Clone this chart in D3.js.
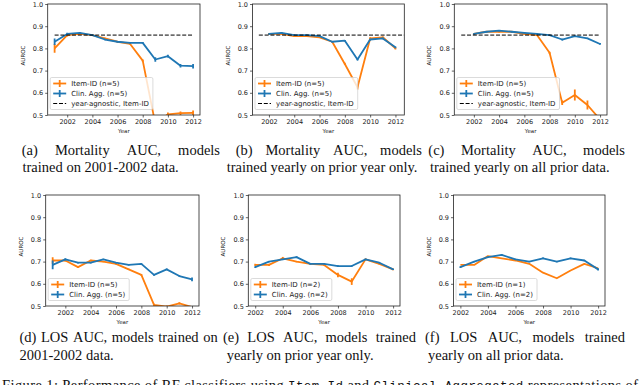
<!DOCTYPE html>
<html>
<head>
<meta charset="utf-8">
<script src="https://cdn.jsdelivr.net/npm/d3@7"></script>
<style>
body { margin: 0; background: #fff; }
svg { display: block; }
.cap { font-family: "Liberation Serif", "DejaVu Serif", serif; font-size: 14.5px; fill: #111; }
.tick text { font-family: "DejaVu Sans", sans-serif; font-size: 6.5px; fill: #222; }
.tick line { stroke: #222; stroke-width: 0.7; }
.lbl { font-family: "DejaVu Sans", sans-serif; font-size: 5.5px; fill: #222; }
.leg { font-family: "DejaVu Sans", sans-serif; font-size: 7px; fill: #222; }
</style>
</head>
<body>
<svg id="fig" width="640" height="385"></svg>
<script>
// ---- data ----
var years01 = [2001, 2002, 2003, 2004, 2005, 2006, 2007, 2008, 2009, 2010, 2011, 2012];
var years02 = [2002, 2003, 2004, 2005, 2006, 2007, 2008, 2009, 2010, 2011, 2012];
var xTicks = [2002, 2004, 2006, 2008, 2010, 2012];
var yTicks = [0.5, 0.6, 0.7, 0.8, 0.9, 1.0];

// (a) mortality, trained on 2001-2002
var mortFixedItem = [0.80, 0.86, 0.865, 0.86, 0.845, 0.83, 0.82, 0.745, 0.46, 0.503, 0.508, 0.51];
var mortFixedItemErr = [0.02, 0.006, 0.004, 0.003, 0.003, 0.003, 0.003, 0.005, 0.005, 0.008, 0.008, 0.01];
var mortFixedClin = [0.83, 0.865, 0.87, 0.86, 0.84, 0.83, 0.825, 0.825, 0.75, 0.765, 0.722, 0.72];
var mortFixedClinErr = [0.015, 0.005, 0.003, 0.003, 0.003, 0.003, 0.003, 0.004, 0.01, 0.006, 0.008, 0.01];

// (b) mortality, trained on prior year only
var mortPrevItem = [0.865, 0.865, 0.855, 0.855, 0.85, 0.83, 0.73, 0.625, 0.845, 0.85, 0.80];
var mortPrevItemErr = [0.004, 0.004, 0.003, 0.003, 0.003, 0.003, 0.005, 0.01, 0.005, 0.004, 0.005];
var mortPrevClin = [0.865, 0.87, 0.86, 0.86, 0.855, 0.83, 0.835, 0.75, 0.84, 0.845, 0.805];
var mortPrevClinErr = [0.003, 0.003, 0.003, 0.003, 0.003, 0.003, 0.003, 0.005, 0.004, 0.004, 0.004];

// (c) mortality, trained on all prior data
var mortAllItem = [0.865, 0.875, 0.875, 0.875, 0.865, 0.86, 0.78, 0.555, 0.59, 0.545, 0.48];
var mortAllItemErr = [0.003, 0.003, 0.003, 0.003, 0.003, 0.003, 0.005, 0.01, 0.025, 0.02, 0.01];
var mortAllClin = [0.865, 0.875, 0.88, 0.875, 0.87, 0.865, 0.86, 0.84, 0.855, 0.845, 0.82];
var mortAllClinErr = [0.003, 0.003, 0.003, 0.003, 0.003, 0.003, 0.003, 0.004, 0.003, 0.003, 0.004];

// (d) LOS, trained on 2001-2002
var losFixedItem = [0.705, 0.705, 0.675, 0.705, 0.70, 0.69, 0.665, 0.64, 0.505, 0.497, 0.512, 0.495];
var losFixedItemErr = [0.015, 0.005, 0.004, 0.003, 0.003, 0.003, 0.003, 0.004, 0.005, 0.005, 0.005, 0.005];
var losFixedClin = [0.685, 0.71, 0.695, 0.695, 0.71, 0.695, 0.685, 0.69, 0.64, 0.665, 0.635, 0.62];
var losFixedClinErr = [0.02, 0.005, 0.003, 0.003, 0.003, 0.003, 0.003, 0.003, 0.004, 0.004, 0.003, 0.008];

// (e) LOS, trained on prior year only
var losPrevItem = [0.685, 0.685, 0.715, 0.70, 0.69, 0.685, 0.64, 0.61, 0.71, 0.69, 0.665];
var losPrevItemErr = [0.005, 0.005, 0.006, 0.003, 0.003, 0.004, 0.01, 0.015, 0.004, 0.003, 0.004];
var losPrevClin = [0.675, 0.70, 0.71, 0.72, 0.69, 0.69, 0.68, 0.68, 0.71, 0.695, 0.665];
var losPrevClinErr = [0.004, 0.003, 0.003, 0.004, 0.003, 0.003, 0.003, 0.003, 0.003, 0.003, 0.003];

// (f) LOS, trained on all prior data
var losAllItem = [0.685, 0.685, 0.725, 0.715, 0.705, 0.69, 0.65, 0.625, 0.66, 0.69, 0.67];
var losAllItemErr = [0, 0, 0, 0, 0, 0, 0, 0, 0, 0, 0];
var losAllClin = [0.675, 0.70, 0.72, 0.73, 0.71, 0.70, 0.715, 0.70, 0.715, 0.705, 0.665];
var losAllClinErr = [0.004, 0.003, 0.003, 0.003, 0.003, 0.003, 0.003, 0.003, 0.003, 0.003, 0.005];

var yearAgnostic = 0.86;
var itemN = [5, 5, 5, 5, 2, 1];
var clinN = [5, 5, 5, 5, 2, 2];

var captions = [
    ["(a) Mortality AUC, models", "trained on 2001-2002 data."],
    ["(b) Mortality AUC, models", "trained yearly on prior year only."],
    ["(c) Mortality AUC, models", "trained yearly on all prior data."],
    ["(d) LOS AUC, models trained on", "2001-2002 data."],
    ["(e) LOS AUC, models trained", "yearly on prior year only."],
    ["(f) LOS AUC, models trained", "yearly on all prior data."]
];

// ---- layout ----
// cx: justified first line [x0, x1], second line x; cy: baselines
var panels = [
    { years: years01, item: mortFixedItem, itemErr: mortFixedItemErr, clin: mortFixedClin, clinErr: mortFixedClinErr,
      base: [2001, 2012], l: 47.7, r: 200, t: 4, b: 115, xdom: [2000.45, 2012.55], cx: [21.7, 220, 22.5], cy: [155, 172] },
    { years: years02, item: mortPrevItem, itemErr: mortPrevItemErr, clin: mortPrevClin, clinErr: mortPrevClinErr,
      base: [2001.2, 2012.7], l: 252.5, r: 404.3, t: 4, b: 115, xdom: [2000.7, 2012.7], cx: [235.7, 422, 226.7], cy: [155, 172] },
    { years: years02, item: mortAllItem, itemErr: mortAllItemErr, clin: mortAllClin, clinErr: mortAllClinErr,
      base: [2001, 2012], l: 454.3, r: 607, t: 4, b: 115, xdom: [2000.45, 2012.55], cx: [428.3, 625, 430], cy: [155, 172] },
    { years: years01, item: losFixedItem, itemErr: losFixedItemErr, clin: losFixedClin, clinErr: losFixedClinErr,
      base: null, l: 45.7, r: 199, t: 195, b: 306, xdom: [2000.45, 2012.55], cx: [19.5, 217.7, 19.5], cy: [342, 360] },
    { years: years02, item: losPrevItem, itemErr: losPrevItemErr, clin: losPrevClin, clinErr: losPrevClinErr,
      base: null, l: 248.3, r: 400, t: 195, b: 306, xdom: [2001.5, 2012.5], cx: [223, 416, 226.7], cy: [342, 360] },
    { years: years02, item: losAllItem, itemErr: losAllItemErr, clin: losAllClin, clinErr: losAllClinErr,
      base: null, l: 453.5, r: 605, t: 195, b: 306, xdom: [2001.5, 2012.5], cx: [425, 625, 428], cy: [342, 360] }
];

var orange = "#ff7f0e", blue = "#1f77b4";
var svg = d3.select("#fig");

function justify(g, text, x0, x1, y) {
    var words = text.split(" ");
    var nodes = words.map(function(w) {
        return g.append("text").attr("class", "cap").attr("y", y).text(w);
    });
    var widths = nodes.map(function(n) { return n.node().getComputedTextLength(); });
    var gap = (x1 - x0 - d3.sum(widths)) / (words.length - 1);
    var x = x0;
    nodes.forEach(function(n, i) { n.attr("x", x); x += widths[i] + gap; });
}

panels.forEach(function(p, pi) {
    var g = svg.append("g");
    var x = d3.scaleLinear().domain(p.xdom).range([p.l, p.r]);
    var y = d3.scaleLinear().domain([0.5, 1.0]).range([p.b, p.t]);

    var clipId = "clip" + pi;
    g.append("clipPath").attr("id", clipId)
        .append("rect").attr("x", p.l).attr("y", p.t).attr("width", p.r - p.l).attr("height", p.b - p.t);

    g.append("g")
        .attr("transform", "translate(0," + p.b + ")")
        .call(d3.axisBottom(x).tickValues(xTicks).tickFormat(d3.format("d")).tickSize(2.5).tickPadding(2))
        .call(function(a) { a.select(".domain").remove(); });
    g.append("g")
        .attr("transform", "translate(" + p.l + ",0)")
        .call(d3.axisLeft(y).tickValues(yTicks).tickFormat(d3.format(".1f")).tickSize(2.5).tickPadding(2))
        .call(function(a) { a.select(".domain").remove(); });

    g.append("text").attr("class", "lbl")
        .attr("x", (p.l + p.r) / 2).attr("y", p.b + 18)
        .attr("text-anchor", "middle").text("Year");
    g.append("text").attr("class", "lbl")
        .attr("transform", "translate(" + (p.l - 23) + "," + ((p.t + p.b) / 2 - 4) + ") rotate(-90)")
        .attr("text-anchor", "middle").text("AUROC");

    var plot = g.append("g").attr("clip-path", "url(#" + clipId + ")");
    var line = d3.line().x(function(d) { return x(d[0]); }).y(function(d) { return y(d[1]); });

    [[p.item, p.itemErr, orange], [p.clin, p.clinErr, blue]].forEach(function(s) {
        var pts = p.years.map(function(yr, i) { return [yr, s[0][i], s[1][i]]; });
        plot.append("path").datum(pts)
            .attr("d", line)
            .attr("fill", "none").attr("stroke", s[2]).attr("stroke-width", 1.8)
            .attr("stroke-linejoin", "round");
        plot.selectAll(null).data(pts.filter(function(d) { return d[2] > 0; }))
            .enter().append("line")
            .attr("x1", function(d) { return x(d[0]); }).attr("x2", function(d) { return x(d[0]); })
            .attr("y1", function(d) { return y(d[1] - d[2]); }).attr("y2", function(d) { return y(d[1] + d[2]); })
            .attr("stroke", s[2]).attr("stroke-width", 1.8);
    });

    if (p.base) {
        plot.append("line")
            .attr("x1", x(p.base[0])).attr("x2", x(p.base[1]))
            .attr("y1", y(yearAgnostic)).attr("y2", y(yearAgnostic))
            .attr("stroke", "#000").attr("stroke-width", 1).attr("stroke-dasharray", "4,1.8");
    }

    g.append("rect")
        .attr("x", p.l).attr("y", p.t).attr("width", p.r - p.l).attr("height", p.b - p.t)
        .attr("fill", "none").attr("stroke", "#222").attr("stroke-width", 0.8);

    // legend
    var entries = [
        { label: "Item-ID (n=" + itemN[pi] + ")", color: orange, err: true },
        { label: "Clin. Agg. (n=" + clinN[pi] + ")", color: blue, err: true }
    ];
    if (p.base) entries.push({ label: "year-agnostic, Item-ID", color: "#000", err: false });
    var lh = 10, boxH = 12 + lh * (entries.length - 1);
    var bx = p.l + 2.5, by = p.b - 5.5 - boxH;
    var leg = g.append("g");
    var box = leg.append("rect")
        .attr("x", bx).attr("y", by).attr("height", boxH).attr("rx", 1.5)
        .attr("fill", "#fff").attr("fill-opacity", 0.8).attr("stroke", "#ccc").attr("stroke-width", 0.7);
    var maxW = 0;
    entries.forEach(function(e, i) {
        var ey = by + 6 + i * lh;
        leg.append("line")
            .attr("x1", bx + 3).attr("x2", bx + 16).attr("y1", ey).attr("y2", ey)
            .attr("stroke", e.color).attr("stroke-width", e.err ? 1.8 : 1)
            .attr("stroke-dasharray", e.err ? null : "4,1.8");
        if (e.err) {
            leg.append("line")
                .attr("x1", bx + 9.5).attr("x2", bx + 9.5).attr("y1", ey - 3.5).attr("y2", ey + 3.5)
                .attr("stroke", e.color).attr("stroke-width", 1.8);
        }
        var t = leg.append("text").attr("class", "leg")
            .attr("x", bx + 21).attr("y", ey + 2.5).text(e.label);
        maxW = Math.max(maxW, t.node().getComputedTextLength());
    });
    box.attr("width", 21 + maxW + 4);

    // caption
    justify(svg, captions[pi][0], p.cx[0], p.cx[1], p.cy[0]);
    svg.append("text").attr("class", "cap").attr("x", p.cx[2]).attr("y", p.cy[1]).text(captions[pi][1]);
});

// figure caption, cut off at the bottom edge as in the source
var fc = svg.append("text").attr("class", "cap").attr("x", 2).attr("y", 390)
    .attr("textLength", 636).attr("lengthAdjust", "spacing");
fc.append("tspan").text("Figure 1: Performance of RF classifiers using ");
fc.append("tspan").style("font-family", "'Liberation Mono', monospace").style("font-size", "12.5px").text("Item-Id");
fc.append("tspan").text(" and ");
fc.append("tspan").style("font-family", "'Liberation Mono', monospace").style("font-size", "12.5px").text("Clinical Aggregated");
fc.append("tspan").text(" representations of");
</script>
</body>
</html>
